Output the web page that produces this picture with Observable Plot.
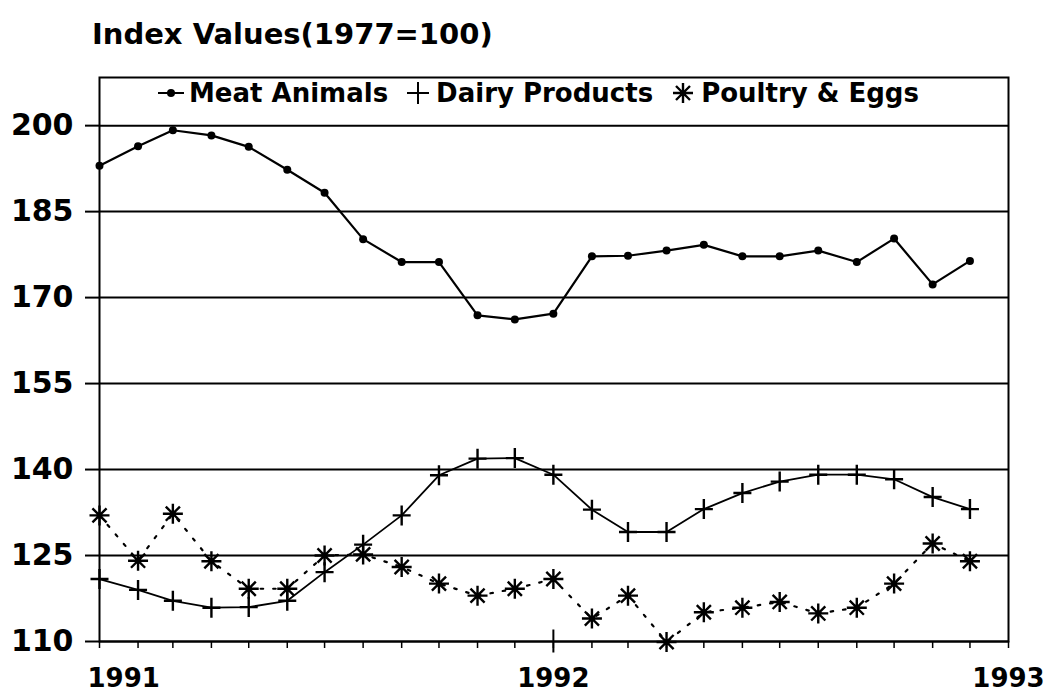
<!DOCTYPE html>
<html><head><meta charset="utf-8">
<script src="https://cdn.jsdelivr.net/npm/d3@7"></script>
<script src="https://cdn.jsdelivr.net/npm/@observablehq/plot@0.6"></script>
<style>
body{margin:0;background:#fff;font-family:"DejaVu Sans",sans-serif;color:#000;}
#wrap{position:relative;width:1049px;height:699px;overflow:hidden;}
#title{position:absolute;left:92px;top:20px;font-size:29px;font-weight:bold;line-height:1;white-space:nowrap;}
#chart{position:absolute;left:0;top:60px;}
#legend{position:absolute;top:80px;left:158px;font-size:26px;font-weight:bold;display:flex;align-items:center;white-space:nowrap;line-height:1;}
#legend svg{display:block;}
#legend span{margin-left:5px;margin-right:17px;}
</style></head>
<body>
<div id="wrap">
  <div id="title"></div>
  <div id="chart"></div>
  <div id="legend"></div>
</div>
<script>
// ---- data ----
const months = ["1991-01","1991-02","1991-03","1991-04","1991-05","1991-06","1991-07","1991-08","1991-09","1991-10","1991-11","1991-12",
                "1992-01","1992-02","1992-03","1992-04","1992-05","1992-06","1992-07","1992-08","1992-09","1992-10","1992-11","1992-12"];
const meatAnimals   = [193,196.4,199.2,198.3,196.3,192.3,188.3,180.2,176.2,176.2,166.9,166.2,167.2,177.2,177.3,178.2,179.2,177.2,177.2,178.2,176.2,180.3,172.3,176.4];
const dairyProducts = [120.9,119,117.1,115.9,116,117.1,122.1,126.9,132,139,141.9,142,139.1,133,129.1,129.1,133.1,135.9,137.9,139.1,139.1,138.3,135.2,133.1];
const poultryEggs   = [132,124.1,132.3,124,119.2,119.2,125,125.2,123,120.1,118,119.2,120.9,114,118,109.9,115.1,115.9,116.9,114.9,115.9,120.1,127.1,124];
const seriesNames = ["Meat Animals","Dairy Products","Poultry & Eggs"];
const yTicks = [110,125,140,155,170,185,200];
const yearTicks = ["1991","1992","1993"];
const titleText = "Index Values(1977=100)";

// ---- build ----
const parseM = d3.utcParse("%Y-%m");
const parseY = d3.utcParse("%Y");
const dates = months.map(parseM);
const years = yearTicks.map(parseY);
const rows = s => dates.map((d,i)=>({date:d, value:s[i]}));
const minorTicks = dates.concat([years[2]]);

const plusSym = {draw(c, size){ const r=Math.sqrt(size/Math.PI); c.moveTo(-r*0.9,0); c.lineTo(r*0.9,0); c.moveTo(0,-r); c.lineTo(0,r);} };
const astSym = {draw(c, size){ const r=Math.sqrt(size/Math.PI); const k=r*Math.SQRT1_2;
  c.moveTo(0,-r); c.lineTo(0,r); c.moveTo(-r,0); c.lineTo(r,0);
  c.moveTo(-k,-k); c.lineTo(k,k); c.moveTo(-k,k); c.lineTo(k,-k);} };
const vSym = {draw(c){ c.moveTo(0,-12); c.lineTo(0,11);} };

document.getElementById("title").textContent = titleText;

const fmtY = d3.utcFormat("%Y");
const chart = Plot.plot({
  width: 1049, height: 639,
  marginLeft: 99, marginRight: 41, marginTop: 17, marginBottom: 58,
  style: {fontFamily: "'DejaVu Sans', sans-serif", fontWeight: "bold", color: "black", background: "white"},
  x: {type: "utc", domain: [years[0], years[2]]},
  y: {domain: [110, 208.4]},
  marks: [
    Plot.gridY(yTicks, {stroke: "black", strokeOpacity: 1, strokeWidth: 2}),
    Plot.frame({stroke: "black", strokeWidth: 2}),
    Plot.axisY(yTicks, {tickSize: 14, tickPadding: 12, fontSize: 30, fontWeight: "bold", strokeWidth: 2, label: null}),
    Plot.axisX(minorTicks, {tickSize: 7, strokeWidth: 1.5, tickFormat: () => "", label: null}),
    Plot.axisX([years[0]], {tickSize: 0, tickPadding: 27, tickFormat: fmtY, fontSize: 26, fontWeight: "bold", textAnchor: "start", dx: -12, label: null}),
    Plot.axisX(years.slice(1), {tickSize: 0, tickPadding: 27, tickFormat: fmtY, fontSize: 26, fontWeight: "bold", label: null}),
    Plot.dot([years[1]], {x: d => d, y: () => yTicks[0], symbol: vSym, r: 5, fill: "none", stroke: "black", strokeWidth: 2}),
    // Poultry & Eggs (dotted)
    Plot.line(rows(poultryEggs), {x: "date", y: "value", stroke: "black", strokeWidth: 2.2, strokeDasharray: "2.5,10"}),
    Plot.dot(rows(poultryEggs), {x: "date", y: "value", symbol: astSym, r: 10, fill: "none", stroke: "black", strokeWidth: 2.4}),
    // Dairy Products
    Plot.line(rows(dairyProducts), {x: "date", y: "value", stroke: "black", strokeWidth: 1.8}),
    Plot.dot(rows(dairyProducts), {x: "date", y: "value", symbol: plusSym, r: 10, fill: "none", stroke: "black", strokeWidth: 2.4}),
    // Meat Animals
    Plot.line(rows(meatAnimals), {x: "date", y: "value", stroke: "black", strokeWidth: 2.2}),
    Plot.dot(rows(meatAnimals), {x: "date", y: "value", r: 4, fill: "black", stroke: "none"})
  ]
});
document.getElementById("chart").appendChild(chart);

// legend
const lg = document.getElementById("legend");
const icons = [
  '<svg width="26" height="16"><line x1="0" y1="8" x2="26" y2="8" stroke="black" stroke-width="2"/><circle cx="13" cy="8" r="4"/></svg>',
  '<svg width="26" height="24"><path d="M2,12H24M13,1V23" stroke="black" stroke-width="2" fill="none"/></svg>',
  '<svg width="26" height="24"><path d="M13,2V22M3,12H23M6,5L20,19M6,19L20,5" stroke="black" stroke-width="2.4" fill="none"/></svg>'
];
seriesNames.forEach((n,i)=>{
  lg.insertAdjacentHTML("beforeend", icons[i] + "<span>" + n.replace("&","&amp;") + "</span>");
});
</script>
</body></html>
